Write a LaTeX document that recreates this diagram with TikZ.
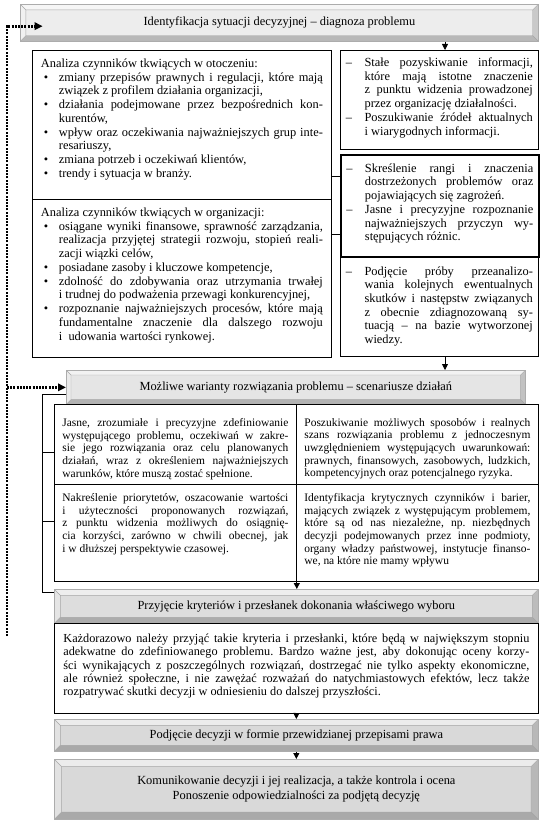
\documentclass[tikz,border=0pt]{standalone}
\usepackage{fontspec}
\setmainfont{Liberation Serif}
\usetikzlibrary{arrows.meta}
\frenchspacing

% bevelled frame of the grey stage boxes
\newcommand\bevelfaces{%
  \path (path picture bounding box.north west) coordinate (bA)
        (path picture bounding box.north east) coordinate (bB)
        (path picture bounding box.south east) coordinate (bC)
        (path picture bounding box.south west) coordinate (bD);
  \path ([shift={(\bev,-\bev)}]bA) coordinate (iA)
        ([shift={(-\bev,-\bev)}]bB) coordinate (iB)
        ([shift={(-\bev,\bev)}]bC) coordinate (iC)
        ([shift={(\bev,\bev)}]bD) coordinate (iD);
  \fill[white, opacity=.5] (bA) -- (bB) -- (iB) -- (iA) -- cycle;
  \fill[white, opacity=.25] (bA) -- (iA) -- (iD) -- (bD) -- cycle;
  \fill[black, opacity=.22] (bD) -- (iD) -- (iC) -- (bC) -- cycle;
  \fill[black, opacity=.15] (bB) -- (iB) -- (iC) -- (bC) -- cycle;
  \draw[gray!70, line width=.3pt] (iA) rectangle (iC) (bA) -- (iA) (bB) -- (iB) (bC) -- (iC) (bD) -- (iD);
}
% text block of fixed height, set from the top
\newcommand\inbox[4]{\parbox[c][#2][t]{#1}{\vspace*{#3}#4}}
\newcommand\pkt{\noindent\hangindent=13.5pt\hangafter=1\makebox[13.5pt][l]{\hspace{2.25pt}\textbullet}}
\newcommand\myd{\noindent\hangindent=14pt\hangafter=1\makebox[14pt][l]{–}}

\tikzset{
  stage/.style 2 args={draw=gray!65, line width=.5pt, fill=#1, anchor=north west, inner sep=0pt,
    align=center, font=\fontsize{9.3}{11.5}\selectfont, path picture={\def\bev{#2}\bevelfaces}},
  panel/.style={draw, line width=.6pt, anchor=north west, inner sep=0pt,
    font=\fontsize{9.3}{10.3}\selectfont},
  cell/.style={panel, minimum width=181.5pt, font=\fontsize{8.6}{9.5}\selectfont},
  arr/.style={-{Triangle[length=4.5pt, width=4.5pt]}, line width=.6pt},
  dots/.style={line width=2.2pt, dash pattern=on 1.5pt off 0.9pt, -{Triangle[length=6pt, width=5.5pt]}},
}

\begin{document}
\begin{tikzpicture}[x=0.75pt, y=-0.75pt]
  \useasboundingbox (0,0) rectangle (544,824);

  % Diagnosis stage
  \node [stage={gray!14}{4.2pt}, minimum width=388.5pt, minimum height=27.75pt] (diag) at (20,4)
    {Identyfikacja sytuacji decyzyjnej – diagnoza problemu};

  % Left column: analysis of factors
  \node [panel, minimum width=224.25pt] (env) at (32,50) {\inbox{211.5pt}{111.75pt}{6.3pt}{%
    Analiza czynników tkwiących w otoczeniu:\par
    \pkt zmiany przepisów prawnych i regulacji, które mają\linebreak związek z profilem działania organizacji,\par
    \pkt działania podejmowane przez bezpośrednich kon-\linebreak kurentów,\par
    \pkt wpływ oraz oczekiwania najważniejszych grup inte-\linebreak resariuszy,\par
    \pkt zmiana potrzeb i oczekiwań klientów,\par
    \pkt trendy i sytuacja w branży.}};
  \node [panel, minimum width=224.25pt] (org) at (32,199) {\inbox{211.5pt}{118.5pt}{6.3pt}{%
    Analiza czynników tkwiących w organizacji:\par
    \pkt osiągane wyniki finansowe, sprawność zarządzania,\linebreak realizacja przyjętej strategii rozwoju, stopień reali-\linebreak zacji wiązki celów,\par
    \pkt posiadane zasoby i kluczowe kompetencje,\par
    \pkt zdolność do zdobywania oraz utrzymania trwałej\linebreak i trudnej do podważenia przewagi konkurencyjnej,\par
    \pkt rozpoznanie najważniejszych procesów, które mają\linebreak fundamentalne znaczenie dla dalszego rozwoju\linebreak i\ \ udowania wartości rynkowej.}};

  % Right column
  \node [panel, minimum width=148.5pt] (info) at (340,50) {\inbox{140.25pt}{74.25pt}{5.5pt}{%
    \myd Stałe pozyskiwanie informacji,\linebreak które mają istotne znaczenie\linebreak z punktu widzenia prowadzonej\linebreak przez organizację działalności.\par
    \myd Poszukiwanie źródeł aktualnych\linebreak i wiarygodnych informacji.}};
  \node [panel, line width=1.2pt, minimum width=148.5pt] (rank) at (340,154) {\inbox{140.25pt}{76.5pt}{6.5pt}{%
    \myd Skreślenie rangi i znaczenia\linebreak dostrzeżonych problemów oraz\linebreak pojawiających się zagrożeń.\par
    \myd Jasne i precyzyjne rozpoznanie\linebreak najważniejszych przyczyn wy-\linebreak stępujących różnic.}};
  \node [panel, minimum width=148.5pt] (cons) at (340,256) {\inbox{140.25pt}{75pt}{7.5pt}{%
    \myd Podjęcie próby przeanalizo-\linebreak wania kolejnych ewentualnych\linebreak skutków i następstw związanych\linebreak z obecnie zdiagnozowaną sy-\linebreak tuacją – na bazie wytworzonej\linebreak wiedzy.}};

  % Variants stage and its table
  \node [stage={gray!20}{3.5pt}, minimum width=344.25pt, minimum height=25.5pt] (variants) at (66,370)
    {Możliwe warianty rozwiązania problemu – scenariusze działań};
  \node [cell] (c11) at (54,404) {\inbox{169.5pt}{60pt}{10.4pt}{%
    Jasne, zrozumiałe i precyzyjne zdefiniowanie\linebreak występującego problemu, oczekiwań w zakre-\linebreak sie jego rozwiązania oraz celu planowanych\linebreak działań, wraz z określeniem najważniejszych\linebreak warunków, które muszą zostać spełnione.}};
  \node [cell] (c12) at (296,404) {\inbox{169.5pt}{60pt}{10.4pt}{%
    Poszukiwanie możliwych sposobów i realnych\linebreak szans rozwiązania problemu z jednoczesnym\linebreak uwzględnieniem występujących uwarunkowań:\linebreak prawnych, finansowych, zasobowych, ludzkich,\linebreak kompetencyjnych oraz potencjalnego ryzyka.}};
  \node [cell] (c21) at (54,484) {\inbox{169.5pt}{72.75pt}{6.8pt}{%
    Nakreślenie priorytetów, oszacowanie wartości\linebreak i użyteczności proponowanych rozwiązań,\linebreak z punktu widzenia możliwych do osiągnię-\linebreak cia korzyści, zarówno w chwili obecnej, jak\linebreak i w dłuższej perspektywie czasowej.}};
  \node [cell] (c22) at (296,484) {\inbox{169.5pt}{72.75pt}{6.8pt}{%
    Identyfikacja krytycznych czynników i barier,\linebreak mających związek z występującym problemem,\linebreak które są od nas niezależne, np.\ niezbędnych\linebreak decyzji podejmowanych przez inne podmioty,\linebreak organy władzy państwowej, instytucje finanso-\linebreak we, na które nie mamy wpływu}};

  % Criteria, decision, communication
  \node [stage={gray!27}{4.5pt}, minimum width=363pt, minimum height=25.5pt] (crit) at (54,589)
    {Przyjęcie kryteriów i przesłanek dokonania właściwego wyboru};
  \node [panel, minimum width=363pt, font=\fontsize{9.2}{9.9}\selectfont] (advice) at (54,623) {\inbox{349.5pt}{67.5pt}{8pt}{%
    Każdorazowo należy przyjąć takie kryteria i przesłanki, które będą w największym stopniu\linebreak adekwatne do zdefiniowanego problemu. Bardzo ważne jest, aby dokonując oceny korzy-\linebreak ści wynikających z poszczególnych rozwiązań, dostrzegać nie tylko aspekty ekonomiczne,\linebreak ale również społeczne, i nie zawężać rozważań do natychmiastowych efektów, lecz także\linebreak rozpatrywać skutki decyzji w odniesieniu do dalszej przyszłości.}};
  \node [stage={gray!30}{4.5pt}, minimum width=363pt, minimum height=24pt] (dec) at (54,719)
    {Podjęcie decyzji w formie przewidzianej przepisami prawa};
  \node [stage={gray!30}{5.5pt}, minimum width=363pt, minimum height=45pt] (comm) at (54,759)
    {Komunikowanie decyzji i jej realizacja, a także kontrola i ocena\\Ponoszenie odpowiedzialności za podjętą decyzję};

  % Connectors
  \coordinate (colX) at (445,0);
  \coordinate (linkA) at (0,176);
  \coordinate (linkB) at (0,234);
  \coordinate (brkTop) at (42.5,394);
  \coordinate (brkBot) at (42.5,592);
  \coordinate (tickA) at (42.5,452);
  \coordinate (tickB) at (42.5,521);
  \coordinate (dotEnd) at (7,636);

  \draw[arr] (diag.south -| colX) -- (info.north -| colX);
  \draw[line width=.6pt] (env.east |- linkA) -- (rank.west |- linkA);
  \draw[line width=.6pt] (org.east |- linkB) -- (rank.west |- linkB);
  \draw[arr] (cons.south -| colX) -- (variants.north -| colX);
  \draw[line width=.6pt] (variants.west |- brkTop) -- (brkTop) -- (brkBot) -- (crit.west |- brkBot);
  \draw[line width=.6pt] (tickA) -- (c11.west |- tickA);
  \draw[line width=.6pt] (tickB) -- (c21.west |- tickB);
  \draw[arr] (c21.south east) -- (c21.south east |- crit.north);
  \draw[arr] (advice.south) -- (dec.north);
  \draw[arr] (dec.south) -- (comm.north);

  % Dotted feedback loop
  \draw[dots] (dotEnd) |- ([xshift=17pt, yshift=-2.5pt]diag.west);
  \draw[dots] (dotEnd |- variants.west) -- (variants.west);
\end{tikzpicture}
\end{document}
